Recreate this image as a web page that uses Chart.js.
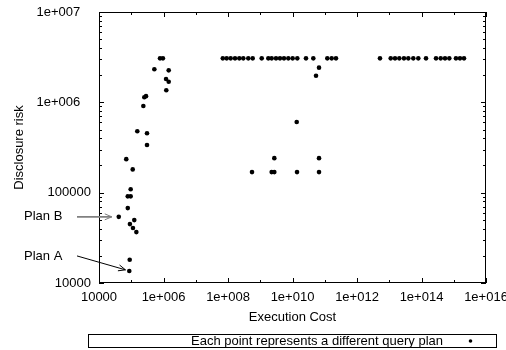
<!DOCTYPE html>
<html><head><meta charset="utf-8">
<script src="https://cdn.jsdelivr.net/npm/chart.js@4/dist/chart.umd.min.js"></script>
<style>html,body{margin:0;padding:0;background:#fff}#wrap{width:506px;height:350px}</style>
</head><body><div id="wrap"><canvas id="c" width="506" height="350"></canvas></div>
<script>
// ---- data ----
const executionCost = [
  // left cluster
  7.8e5, 9.6e5, 5.2e5, 1.45e6, 1.2e6, 1.45e6, 1.22e6, 2.87e5, 2.54e5, 2.37e5,
  1.54e5, 3.08e5, 3.08e5, 7.0e4, 1.11e5, 9.6e4, 7.8e4, 9.6e4, 7.8e4, 4.1e4,
  1.24e5, 9.1e4, 1.13e5, 1.44e5, 8.95e4, 8.7e4,
  // upper row, first group
  6.9e7, 9.1e7, 1.21e8, 1.65e8, 2.24e8, 2.98e8, 4.26e8, 5.83e8, 1.11e9, 1.78e9,
  2.26e9, 3.08e9, 4.09e9, 5.45e9, 7.41e9, 1.01e10, 1.41e10, 2.62e10, 4.42e10,
  1.2e11, 1.64e11, 2.23e11,
  // upper row, second group
  5.16e12, 1.11e13, 1.51e13, 2.05e13, 2.86e13, 3.9e13, 5.57e13, 7.96e13, 1.38e14,
  2.82e14, 3.94e14, 5.36e14, 7.28e14, 1.17e15, 1.56e15, 2.08e15,
  // middle group
  6.64e10, 5.36e10, 1.35e10, 2.73e9, 6.64e10, 5.55e8, 2.26e9, 2.73e9, 1.38e10, 6.64e10
];
const disclosureRisk = [
  3.07e6, 3.07e6, 2.32e6, 2.26e6, 1.81e6, 1.69e6, 1.36e6, 1.17e6, 1.14e6, 9.1e5,
  4.78e5, 4.54e5, 3.37e5, 2.35e5, 1.81e5, 1.09e5, 9.1e4, 9.1e4, 6.75e4, 5.4e4,
  4.97e4, 4.49e4, 4.06e4, 3.66e4, 1.81e4, 1.36e4,
  3.07e6, 3.07e6, 3.07e6, 3.07e6, 3.07e6, 3.07e6, 3.07e6, 3.07e6, 3.07e6, 3.07e6,
  3.07e6, 3.07e6, 3.07e6, 3.07e6, 3.07e6, 3.07e6, 3.07e6, 3.07e6, 3.07e6,
  3.07e6, 3.07e6, 3.07e6,
  3.07e6, 3.07e6, 3.07e6, 3.07e6, 3.07e6, 3.07e6, 3.07e6, 3.07e6, 3.07e6,
  3.07e6, 3.07e6, 3.07e6, 3.07e6, 3.07e6, 3.07e6, 3.07e6,
  2.42e6, 1.97e6, 6.06e5, 2.41e5, 2.41e5, 1.69e5, 1.69e5, 1.69e5, 1.69e5, 1.69e5
];
const xTickValues = [1e4, 1e6, 1e8, 1e10, 1e12, 1e14, 1e16];
const xTickLabels = ["10000", "1e+006", "1e+008", "1e+010", "1e+012", "1e+014", "1e+016"];
const yTickValues = [1e4, 1e5, 1e6, 1e7];
const yTickLabels = ["10000", "100000", "1e+006   ", "1e+007   "];
const planLabels = ["Plan A", "Plan B"];
const planPointIndex = [25, 19];
const seriesLabel = "Each point represents a different query plan";
const xTitle = "Execution Cost";
const yTitle = "Disclosure risk";

const FONT = "'Liberation Sans', Arial, Helvetica, sans-serif";
const points = executionCost.map((c, i) => ({ x: c, y: disclosureRisk[i] }));

const framePlugin = {
  id: 'frame',
  beforeDatasetsDraw(chart) {
    const { ctx, chartArea: a, scales: { x, y } } = chart;
    ctx.save();
    ctx.strokeStyle = '#000';
    ctx.lineWidth = 1;
    ctx.strokeRect(a.left + 0.5, a.top + 0.5, a.right - a.left - 1, a.bottom - a.top - 1);
    const seg = (x1, y1, x2, y2) => { ctx.beginPath(); ctx.moveTo(x1, y1); ctx.lineTo(x2, y2); ctx.stroke(); };
    // x ticks (every decade, major at labelled ones)
    const xmin = Math.log10(x.min), xmax = Math.log10(x.max);
    for (let e = xmin; e <= xmax; e++) {
      const px = Math.round(x.getPixelForValue(Math.pow(10, e))) + 0.5;
      const len = xTickValues.includes(Math.pow(10, e)) ? 5 : 3;
      seg(px, a.bottom, px, a.bottom - len);
      seg(px, a.top, px, a.top + len);
    }
    // y ticks (log minor)
    const ymin = Math.log10(y.min), ymax = Math.log10(y.max);
    for (let e = ymin; e <= ymax; e++) {
      for (let m = 1; m < 10; m++) {
        const v = m * Math.pow(10, e);
        if (v > y.max * 1.0001) break;
        const py = Math.round(y.getPixelForValue(v)) + 0.5;
        const len = m === 1 ? 5 : 3;
        seg(a.left, py, a.left + len, py);
        seg(a.right, py, a.right - len, py);
      }
    }
    ctx.restore();
  },
  afterDraw(chart) {
    const { ctx, chartArea: a } = chart;
    const meta = chart.getDatasetMeta(0);
    ctx.save();
    ctx.font = '13px ' + FONT;
    ctx.fillStyle = '#000';
    ctx.textBaseline = 'middle';
    ctx.textAlign = 'left';
    // plan annotations
    const styles = [
      { color: '#000', width: 1, gap: 4, textDy: -15 },
      { color: '#808080', width: 1.6, gap: 7, textDy: 0 }
    ];
    planLabels.forEach((lab, k) => {
      const el = meta.data[planPointIndex[k]];
      const st = styles[k];
      const sy = el.y + st.textDy;
      ctx.fillStyle = '#000';
      ctx.fillText(lab, a.left - 75, sy);
      const sx = a.left - 22;
      const dx = el.x - sx, dy = el.y - sy;
      const L = Math.hypot(dx, dy);
      const ux = dx / L, uy = dy / L;
      const tx = el.x - ux * st.gap, ty = el.y - uy * st.gap;
      ctx.strokeStyle = st.color;
      ctx.lineWidth = st.width;
      ctx.beginPath(); ctx.moveTo(sx, sy); ctx.lineTo(tx, ty); ctx.stroke();
      // arrow head
      const hl = 7, hw = 3;
      const bx = tx - ux * hl, by = ty - uy * hl;
      ctx.lineWidth = 1;
      ctx.beginPath();
      ctx.moveTo(bx - uy * hw, by + ux * hw);
      ctx.lineTo(tx, ty);
      ctx.lineTo(bx + uy * hw, by - ux * hw);
      ctx.stroke();
    });
    // legend box
    const lx1 = 88.5, lx2 = 496.5, ly1 = 334.5, ly2 = 347.5;
    ctx.strokeStyle = '#000';
    ctx.lineWidth = 1;
    ctx.strokeRect(lx1, ly1, lx2 - lx1, ly2 - ly1);
    ctx.fillStyle = '#000';
    ctx.textAlign = 'right';
    ctx.fillText(chart.data.datasets[0].label, 443, 341.5);
    ctx.beginPath(); ctx.arc(470.5, 341, 1.8, 0, Math.PI * 2); ctx.fill();
    ctx.restore();
  }
};

new Chart(document.getElementById('c'), {
  type: 'scatter',
  data: {
    datasets: [{
      label: seriesLabel,
      data: points,
      pointRadius: 2.3,
      pointHoverRadius: 2.3,
      pointBackgroundColor: '#000',
      pointBorderColor: '#000',
      pointBorderWidth: 0,
      showLine: false
    }]
  },
  options: {
    responsive: false,
    animation: false,
    devicePixelRatio: 1,
    layout: { padding: { left: 0, right: 20, top: 12, bottom: 25 } },
    plugins: { legend: { display: false }, tooltip: { enabled: false } },
    scales: {
      x: {
        type: 'logarithmic',
        min: 1e4, max: 1e16,
        afterBuildTicks: s => { s.ticks = xTickValues.map(v => ({ value: v })); },
        afterFit: s => { s.height = 42; s.paddingLeft = 0; s.paddingRight = 0; },
        grid: { display: false, drawTicks: false },
        border: { display: false },
        ticks: {
          autoSkip: false, maxRotation: 0, minRotation: 0, padding: 7,
          color: '#000', font: { family: FONT, size: 13 },
          callback: (v, i) => xTickLabels[i]
        },
        title: { display: true, text: xTitle, color: '#000', font: { family: FONT, size: 13 }, padding: { top: 0, bottom: 0 } }
      },
      y: {
        type: 'logarithmic',
        min: 1e4, max: 1e7,
        afterBuildTicks: s => { s.ticks = yTickValues.map(v => ({ value: v })); },
        afterFit: s => { s.width = 99; s.paddingTop = 0; s.paddingBottom = 0; },
        grid: { display: false, drawTicks: false },
        border: { display: false },
        ticks: {
          autoSkip: false, padding: 8,
          color: '#000', font: { family: FONT, size: 13 },
          callback: (v, i) => yTickLabels[i]
        },
        title: { display: true, text: yTitle, color: '#000', font: { family: FONT, size: 13 }, padding: { top: 12, bottom: 0 } }
      }
    }
  },
  plugins: [framePlugin]
});
</script>
</body></html>
